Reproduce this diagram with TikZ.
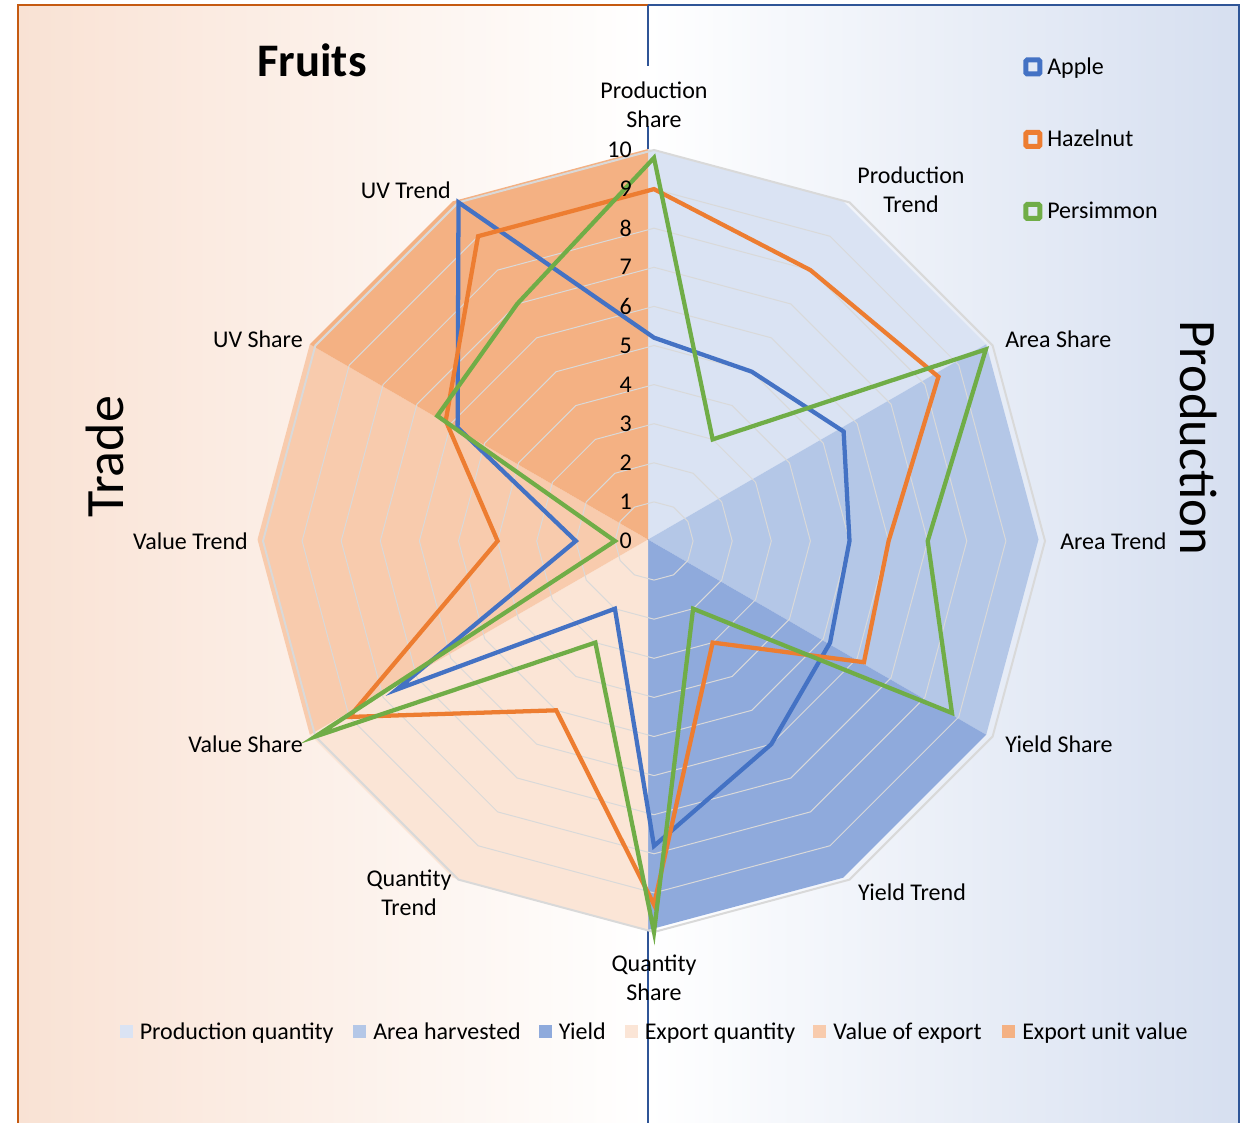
\documentclass[tikz,border=0pt]{standalone}
\usepackage{fontspec}
\setmainfont{Carlito}
\usepackage{xcolor}

\definecolor{applec}{HTML}{4472C4}
\definecolor{hazelc}{HTML}{ED7D31}
\definecolor{persimc}{HTML}{70AD47}
\definecolor{prodq}{HTML}{DAE3F3}
\definecolor{areah}{HTML}{B4C7E7}
\definecolor{yieldc}{HTML}{8FAADC}
\definecolor{expq}{HTML}{FBE5D6}
\definecolor{expv}{HTML}{F8CBAD}
\definecolor{expuv}{HTML}{F4B183}
\definecolor{ringc}{HTML}{D9D9D9}
\definecolor{tradebg}{HTML}{F9E2D4}
\definecolor{prodbg}{HTML}{D6DFF0}
\definecolor{tradeedge}{HTML}{C55A11}
\definecolor{prodedge}{HTML}{2F5597}

\def\cx{654}
\def\cy{541}
\def\unit{39.1}
\def\fx{648}
\def\fy{539.5}

\begin{document}
\begin{tikzpicture}[x=0.75pt,y=-0.75pt,
    every node/.style={font=\fontsize{18}{21.75}\selectfont,inner sep=0pt},
    ringline/.style={ringc,line width=0.75pt},
    series/.style={line width=3.2pt,line join=miter},
    panelline/.style={line width=1.5pt},
    legbox/.style={line width=3.75pt,rounded corners=1pt}]
    \useasboundingbox (0,0) rectangle (1243,1123);
    \clip (0,0) rectangle (1243,1123);

    \shade[left color=tradebg,right color=white] (18,5) rectangle (648,1130);
    \shade[left color=white,right color=prodbg] (648,5) rectangle (1239,1130);
    \draw[panelline,tradeedge] (18,1130) -- (18,5) -- (648,5);
    \draw[panelline,prodedge] (648,5) -- (1239,5) -- (1239,1130);
    \draw[panelline,prodedge] (648,5) -- (648,66);
    \draw[panelline,prodedge] (648,126) -- (648,1130);

    \foreach \a/\col in {0/prodq,2/areah,4/yieldc,6/expq,8/expv,10/expuv}
        \fill[\col] (\fx,\fy) -- ({\fx+390.5*sin(30*\a)},{\fy-390.5*cos(30*\a)})
            -- ({\fx+390.5*sin(30*(\a+1))},{\fy-390.5*cos(30*(\a+1))})
            -- ({\fx+390.5*sin(30*(\a+2))},{\fy-390.5*cos(30*(\a+2))}) -- cycle;

    \foreach \r in {1,...,9}
        \draw[ringline] ({\cx},{\cy-\unit*\r}) \foreach \k in {1,...,11} { -- ({\cx+\unit*\r*sin(30*\k)},{\cy-\unit*\r*cos(30*\k)}) } -- cycle;
    \draw[ringline,line width=1.5pt] ({\cx},{\cy-\unit*10}) \foreach \k in {1,...,11} { -- ({\cx+\unit*10*sin(30*\k)},{\cy-\unit*10*cos(30*\k)}) } -- cycle;

    \foreach \fruit/\vals in {apple/{5.2,5.0,5.6,5.0,5.2,6.0,7.8,2.0,7.6,2.0,5.8,10.0},
                              hazel/{9.0,8.0,8.4,6.0,6.2,3.0,9.3,5.0,9.0,4.0,6.15,9.0},
                              persim/{9.8,3.0,9.8,7.0,8.8,2.0,10.0,3.0,10.0,1.0,6.4,7.0}}
        \foreach \v [count=\k from 0] in \vals
            \coordinate (\fruit\k) at ({\cx+\unit*\v*sin(30*\k)},{\cy-\unit*\v*cos(30*\k)});

    \foreach \fruit/\col in {apple/applec,hazel/hazelc,persim/persimc}
        \draw[series,\col] (\fruit0) \foreach \k in {1,...,11} { -- (\fruit\k) } -- cycle;

    \foreach \v in {0,...,10}
        \node[anchor=east] (tick\v) at (632,{\cy-\unit*\v}) {\v};

    \node[align=center] (catprodshare) at (654,105) {Production\\Share};
    \node[align=center] (catprodtrend) at (911,190) {Production\\Trend};
    \node[anchor=west] (catareashare) at (1005,339) {Area Share};
    \node[anchor=west] (catareatrend) at (1060,541) {Area Trend};
    \node[anchor=west] (catyieldshare) at (1005,744) {Yield Share};
    \node (catyieldtrend) at (912,892) {Yield Trend};
    \node[align=center] (catqtyshare) at (654,978) {Quantity\\Share};
    \node[align=center] (catqtytrend) at (409,893) {Quantity\\Trend};
    \node[anchor=east] (catvalshare) at (303,744) {Value Share};
    \node[anchor=east] (catvaltrend) at (248,541) {Value Trend};
    \node[anchor=east] (catuvshare) at (303,339) {UV Share};
    \node[anchor=east] (catuvtrend) at (451,190) {UV Trend};

    \foreach \fruit/\col/\y in {Apple/applec/67,Hazelnut/hazelc/139.5,Persimmon/persimc/211.5} {
        \draw[legbox,\col] (1025.8,{\y-7}) rectangle (1039.8,{\y+7});
        \node[anchor=base west] (leg\fruit) at (1047,{\y+7.5}) {\fruit};
    }

    \foreach \col/\sx/\txt in {prodq/126/Production quantity,areah/359.5/Area harvested,yieldc/545/Yield,
                               expq/631/Export quantity,expv/819.5/Value of export,expuv/1008.5/Export unit value} {
        \fill[\col] ({\sx-6.5},1024.5) rectangle ({\sx+6.5},1037.5);
        \node[anchor=base west] (key\col) at ({\sx+13.5},1039) {\txt};
    }

    \node[font=\fontsize{35}{42}\selectfont\bfseries] (title) at (312,60) {Fruits};
    \node[font=\fontsize{40.5}{48}\selectfont,rotate=90] (trade) at (105,457) {Trade};
    \node[font=\fontsize{39.5}{48}\selectfont,rotate=-90] (production) at (1199,438) {Production};
\end{tikzpicture}
\end{document}
